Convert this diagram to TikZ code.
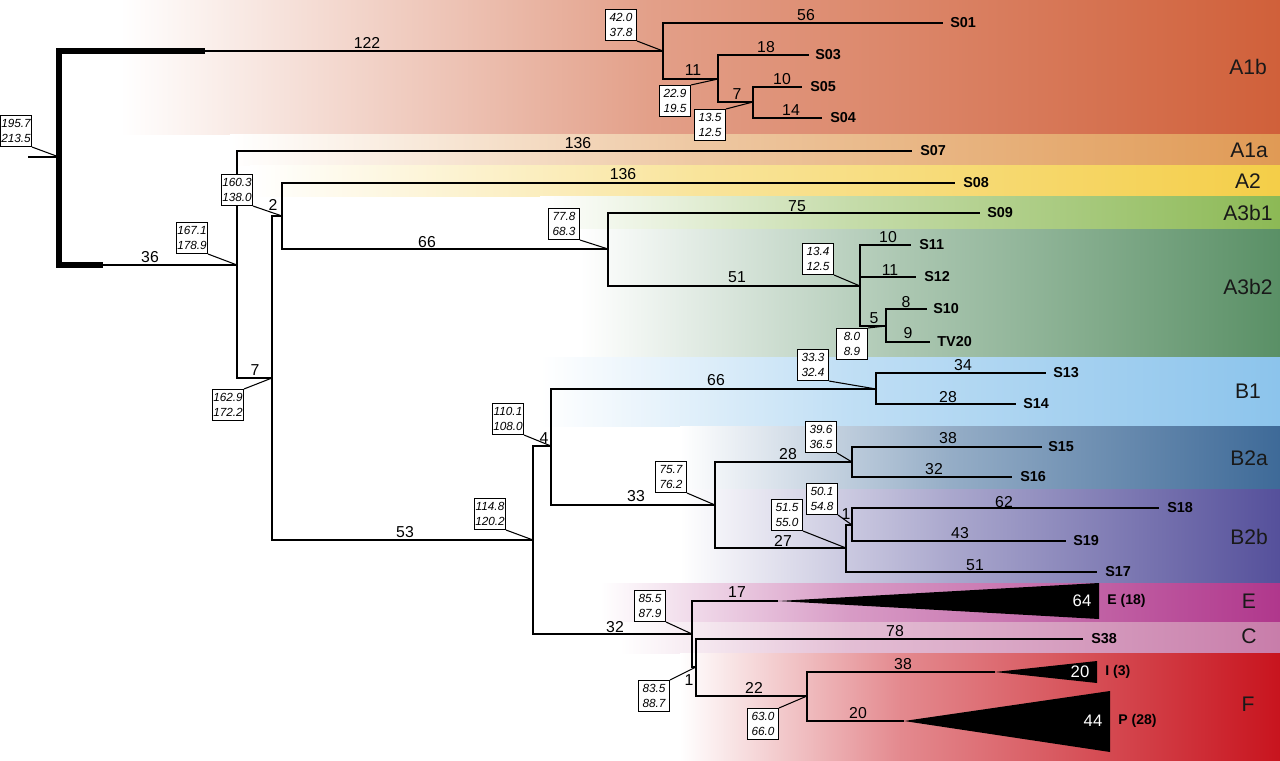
\documentclass[tikz,border=0pt]{standalone}
\usepackage{fontspec}
\setmainfont{Liberation Sans}
\definecolor{cA1b}{HTML}{D0603A}
\definecolor{cA1a}{HTML}{E09A55}
\definecolor{cA2}{HTML}{F4CE48}
\definecolor{cA3b1}{HTML}{8CB955}
\definecolor{cA3b2}{HTML}{5A9066}
\definecolor{cB1}{HTML}{8CC4EC}
\definecolor{cB2a}{HTML}{3E6A98}
\definecolor{cB2b}{HTML}{55509B}
\definecolor{cE}{HTML}{B0378C}
\definecolor{cC}{HTML}{C87DAA}
\definecolor{cF}{HTML}{C8141E}
\newcommand\drawband[6]{%
  \shade[left color=white,right color=#6!#5!white] (#3,#1) rectangle (#4,#2);
  \shade[left color=#6!#5!white,right color=#6] (#4,#1) rectangle (1280,#2);
}
\begin{document}
\begin{tikzpicture}[x=0.02cm,y=-0.02cm,
  br/.style={line width=1.4pt,line join=miter},
  rootbr/.style={line width=3pt,line join=miter},
  lead/.style={line width=0.6pt},
  bl/.style={font=\fontsize{9}{10}\selectfont,inner sep=0pt},
  leaf/.style={font=\fontsize{8.2}{10}\selectfont\bfseries,anchor=west,inner sep=0pt},
  sbox/.style={draw,line width=0.6pt,fill=white,inner sep=0pt,minimum width=0.62cm,minimum height=0.62cm,align=center,font=\fontsize{6.7}{8.4}\selectfont\itshape},
  clade/.style={font=\fontsize{12}{14}\selectfont,text=black!90},
  tri/.style={fill=black},
  trin/.style={font=\fontsize{9.5}{11}\selectfont,text=white,inner sep=0pt},
  grp/.style={font=\fontsize{8}{10}\selectfont\bfseries,anchor=west,inner sep=0pt}]
\useasboundingbox (0,0) rectangle (1280,760);
% ---- coloured bands
\drawband{0}{135}{120}{650}{60}{cA1b}
\drawband{135}{166}{230}{700}{55}{cA1a}
\drawband{166}{197}{250}{700}{55}{cA2}
\drawband{197}{229}{540}{850}{50}{cA3b1}
\drawband{229}{357}{580}{900}{50}{cA3b2}
\drawband{357}{426}{540}{850}{55}{cB1}
\drawband{426}{489}{680}{950}{55}{cB2a}
\drawband{489}{583}{680}{950}{50}{cB2b}
\drawband{583}{622}{600}{850}{50}{cE}
\drawband{622}{653}{620}{850}{50}{cC}
\drawband{653}{760}{680}{900}{50}{cF}
% ---- clade labels
\node[clade] (cl1) at (1248,67) {A1b};
\node[clade] (cl2) at (1249,150) {A1a};
\node[clade] (cl3) at (1248,181) {A2};
\node[clade] (cl4) at (1248,213) {A3b1};
\node[clade] (cl5) at (1248,287) {A3b2};
\node[clade] (cl6) at (1248,391) {B1};
\node[clade] (cl7) at (1249,458) {B2a};
\node[clade] (cl8) at (1249,537) {B2b};
\node[clade] (cl9) at (1249,601) {E};
\node[clade] (cl10) at (1249,636) {C};
\node[clade] (cl11) at (1248,704) {F};
% ---- tree coordinates
\coordinate (r0) at (28,157);
\coordinate (n0) at (59,157);
\coordinate (tA) at (205,51);
\coordinate (tB) at (103,265);
\coordinate (nA1b) at (663,51);
\coordinate (t01) at (943,23);
\coordinate (n11) at (718,79);
\coordinate (t03) at (809,55);
\coordinate (n7) at (753,102);
\coordinate (t05) at (802,87);
\coordinate (t04) at (822,118);
\coordinate (nA) at (237,265);
\coordinate (t07) at (912,151);
\coordinate (n7b) at (272,378);
\coordinate (n2) at (282,216);
\coordinate (t08) at (955,183);
\coordinate (nA3) at (608,249);
\coordinate (t09) at (980,213);
\coordinate (nA3b2) at (860,286);
\coordinate (t11) at (911,245);
\coordinate (t12) at (916,277);
\coordinate (n5) at (886,326);
\coordinate (t10) at (927,309);
\coordinate (t20) at (930,342);
\coordinate (n53) at (533,540);
\coordinate (n4) at (551,446);
\coordinate (nB1) at (876,389);
\coordinate (t13) at (1046,373);
\coordinate (t14) at (1016,404);
\coordinate (n33) at (715,505);
\coordinate (nB2a) at (852,462);
\coordinate (t15) at (1042,447);
\coordinate (t16) at (1012,477);
\coordinate (nB2b) at (846,548);
\coordinate (n1b) at (852,525);
\coordinate (t18) at (1159,508);
\coordinate (t19) at (1066,541);
\coordinate (t17) at (1097,572);
\coordinate (n32) at (692,634);
\coordinate (tE) at (778,601);
\coordinate (nCF) at (696,667);
\coordinate (t38) at (1083,639);
\coordinate (n22) at (807,696);
\coordinate (tI) at (995,672);
\coordinate (tP) at (904,721);
% ---- branches
\draw[br] (r0) -- (n0);
\draw[rootbr] (tA) -| (n0) |- (tB);
\draw[br] (tA) -- (nA1b);
\draw[br] (tB) -- (nA);
\draw[br] (nA1b) |- (t01);
\draw[br] (nA1b) |- (n11);
\draw[br] (n11) |- (t03);
\draw[br] (n11) |- (n7);
\draw[br] (n7) |- (t05);
\draw[br] (n7) |- (t04);
\draw[br] (nA) |- (t07);
\draw[br] (nA) |- (n7b);
\draw[br] (n7b) |- (n2);
\draw[br] (n7b) |- (n53);
\draw[br] (n2) |- (t08);
\draw[br] (n2) |- (nA3);
\draw[br] (nA3) |- (t09);
\draw[br] (nA3) |- (nA3b2);
\draw[br] (nA3b2) |- (t11);
\draw[br] (nA3b2) |- (t12);
\draw[br] (nA3b2) |- (n5);
\draw[br] (n5) |- (t10);
\draw[br] (n5) |- (t20);
\draw[br] (n53) |- (n4);
\draw[br] (n53) |- (n32);
\draw[br] (n4) |- (nB1);
\draw[br] (n4) |- (n33);
\draw[br] (nB1) |- (t13);
\draw[br] (nB1) |- (t14);
\draw[br] (n33) |- (nB2a);
\draw[br] (n33) |- (nB2b);
\draw[br] (nB2a) |- (t15);
\draw[br] (nB2a) |- (t16);
\draw[br] (nB2b) |- (n1b);
\draw[br] (nB2b) |- (t17);
\draw[br] (n1b) |- (t18);
\draw[br] (n1b) |- (t19);
\draw[br] (n32) |- (tE);
\draw[br] (n32) |- (nCF);
\draw[br] (nCF) |- (t38);
\draw[br] (nCF) |- (n22);
\draw[br] (n22) |- (tI);
\draw[br] (n22) |- (tP);
% ---- collapsed clades
\fill[tri] (tE) -- (1099,583) -- (1099,619) -- cycle;
\fill[tri] (tI) -- (1097,661) -- (1097,683) -- cycle;
\fill[tri] (tP) -- (1110,691) -- (1110,752) -- cycle;
\node[trin] (w64) at (1082,601) {64};
\node[trin] (w20) at (1080,672) {20};
\node[trin] (w44) at (1093,721) {44};
\node[grp] (gE) at (1107,601) {E (18)};
\node[grp] (gI) at (1105,672) {I (3)};
\node[grp] (gP) at (1118,721) {P (28)};
% ---- leaf labels
\node[leaf] (S01) at (950,23) {S01};
\node[leaf] (S03) at (815,55) {S03};
\node[leaf] (S05) at (810,87) {S05};
\node[leaf] (S04) at (830,118) {S04};
\node[leaf] (S07) at (920,151) {S07};
\node[leaf] (S08) at (963,183) {S08};
\node[leaf] (S09) at (987,213) {S09};
\node[leaf] (S11) at (919,245) {S11};
\node[leaf] (S12) at (924,277) {S12};
\node[leaf] (S10) at (933,309) {S10};
\node[leaf] (TV20) at (937,342) {TV20};
\node[leaf] (S13) at (1053,373) {S13};
\node[leaf] (S14) at (1023,404) {S14};
\node[leaf] (S15) at (1048,447) {S15};
\node[leaf] (S16) at (1020,477) {S16};
\node[leaf] (S18) at (1167,508) {S18};
\node[leaf] (S19) at (1073,541) {S19};
\node[leaf] (S17) at (1105,572) {S17};
\node[leaf] (S38) at (1091,639) {S38};
% ---- branch lengths
\node[bl] (b1) at (367,43) {122};
\node[bl] (b2) at (150,257) {36};
\node[bl] (b3) at (806,15) {56};
\node[bl] (b4) at (693,70) {11};
\node[bl] (b5) at (766,47) {18};
\node[bl] (b6) at (737,94) {7};
\node[bl] (b7) at (782,79) {10};
\node[bl] (b8) at (791,110) {14};
\node[bl] (b9) at (578,143) {136};
\node[bl] (b10) at (255,370) {7};
\node[bl] (b11) at (273,205) {2};
\node[bl] (b12) at (623,174) {136};
\node[bl] (b13) at (427,242) {66};
\node[bl] (b14) at (797,206) {75};
\node[bl] (b15) at (737,277) {51};
\node[bl] (b16) at (888,237) {10};
\node[bl] (b17) at (890,270) {11};
\node[bl] (b18) at (874,318) {5};
\node[bl] (b19) at (906,302) {8};
\node[bl] (b20) at (908,333) {9};
\node[bl] (b21) at (405,532) {53};
\node[bl] (b22) at (544,438) {4};
\node[bl] (b23) at (716,380) {66};
\node[bl] (b24) at (963,365) {34};
\node[bl] (b25) at (948,397) {28};
\node[bl] (b26) at (636,496) {33};
\node[bl] (b27) at (788,454) {28};
\node[bl] (b28) at (948,438) {38};
\node[bl] (b29) at (934,469) {32};
\node[bl] (b30) at (783,541) {27};
\node[bl] (b31) at (846,514) {1};
\node[bl] (b32) at (1004,502) {62};
\node[bl] (b33) at (960,533) {43};
\node[bl] (b34) at (975,565) {51};
\node[bl] (b35) at (615,627) {32};
\node[bl] (b36) at (737,592) {17};
\node[bl] (b37) at (895,631) {78};
\node[bl] (b38) at (689,680) {1};
\node[bl] (b39) at (754,688) {22};
\node[bl] (b40) at (903,664) {38};
\node[bl] (b41) at (858,713) {20};
% ---- support boxes
\node[sbox] (x1) at (16,131) {195.7\\213.5};
\node[sbox] (x2) at (621,25) {42.0\\37.8};
\node[sbox] (x3) at (675,101) {22.9\\19.5};
\node[sbox] (x4) at (710,125) {13.5\\12.5};
\node[sbox] (x5) at (237,190) {160.3\\138.0};
\node[sbox] (x6) at (192,238) {167.1\\178.9};
\node[sbox] (x7) at (228,405) {162.9\\172.2};
\node[sbox] (x8) at (564,224) {77.8\\68.3};
\node[sbox] (x9) at (818,259) {13.4\\12.5};
\node[sbox] (x10) at (852,344) {8.0\\8.9};
\node[sbox] (x11) at (813,365) {33.3\\32.4};
\node[sbox] (x12) at (508,419) {110.1\\108.0};
\node[sbox] (x13) at (490,514) {114.8\\120.2};
\node[sbox] (x14) at (671,477) {75.7\\76.2};
\node[sbox] (x15) at (821,437) {39.6\\36.5};
\node[sbox] (x16) at (822,499) {50.1\\54.8};
\node[sbox] (x17) at (787,515) {51.5\\55.0};
\node[sbox] (x18) at (650,606) {85.5\\87.9};
\node[sbox] (x19) at (654,696) {83.5\\88.7};
\node[sbox] (x20) at (763,724) {63.0\\66.0};
% ---- leaders
\draw[lead] (x1.south east) -- (n0);
\draw[lead] (x2.south east) -- (nA1b);
\draw[lead] (x3.north east) -- (n11);
\draw[lead] (x4.north east) -- (n7);
\draw[lead] (x5.south east) -- (n2);
\draw[lead] (x6.south east) -- (nA);
\draw[lead] (x7.north east) -- (n7b);
\draw[lead] (x8.south east) -- (nA3);
\draw[lead] (x9.south east) -- (nA3b2);
\draw[lead] (x10.north east) -- (n5);
\draw[lead] (x11.south east) -- (nB1);
\draw[lead] (x12.south east) -- (n4);
\draw[lead] (x13.south east) -- (n53);
\draw[lead] (x14.south east) -- (n33);
\draw[lead] (x15.south east) -- (nB2a);
\draw[lead] (x16.south east) -- (n1b);
\draw[lead] (x17.south east) -- (nB2b);
\draw[lead] (x18.south east) -- (n32);
\draw[lead] (x19.north east) -- (nCF);
\draw[lead] (x20.north east) -- (n22);
\end{tikzpicture}
\end{document}
